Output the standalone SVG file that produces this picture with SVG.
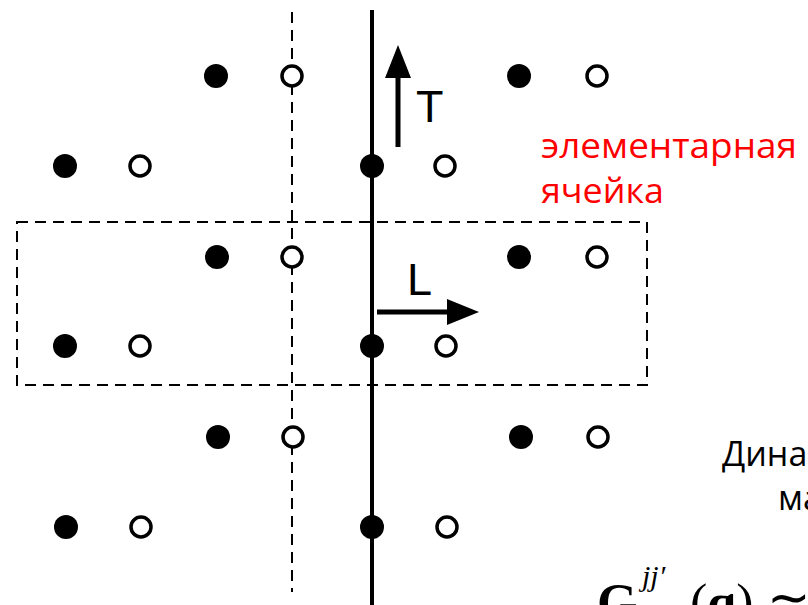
<svg xmlns="http://www.w3.org/2000/svg" width="808" height="605" viewBox="0 0 808 605">
<style>
.f{fill:#000}
.o{fill:#fff;stroke:#000;stroke-width:3.5}
.dash{fill:none;stroke:#000;stroke-width:2;stroke-dasharray:11 7}
.lbl{font-family:"Liberation Sans",Arial,sans-serif;font-size:45px;fill:#000}
.red{font-family:"Open Sans","Liberation Sans",sans-serif;font-size:34px;fill:#ff0000}
.blk{font-family:"Open Sans","Liberation Sans",sans-serif;font-size:34px;fill:#000}
.math{font-family:"Liberation Serif","Times New Roman",serif;fill:#000}
</style>
<rect width="808" height="605" fill="#fff"/>
<g id="connectors">
<line x1="292" y1="12" x2="292" y2="592" class="dash"/>
<rect x="17" y="222" width="630" height="163" class="dash"/>
<line x1="372" y1="10" x2="372" y2="605" stroke="#000" stroke-width="4"/>
<line x1="398" y1="147" x2="398" y2="75" stroke="#000" stroke-width="5"/>
<polygon points="398,45 385,78 411,78" fill="#000"/>
<line x1="377" y1="312" x2="450" y2="312" stroke="#000" stroke-width="5"/>
<polygon points="479,312 447,299 447,325" fill="#000"/>
</g>
<g id="atoms">
<circle class="f" cx="216" cy="76" r="12"/><circle class="o" cx="292" cy="76" r="10"/>
<circle class="f" cx="519" cy="76" r="12"/><circle class="o" cx="597" cy="76" r="10"/>
<circle class="f" cx="65" cy="166" r="12"/><circle class="o" cx="140" cy="166" r="10"/>
<circle class="f" cx="372" cy="166" r="12"/><circle class="o" cx="445" cy="166" r="10"/>
<circle class="f" cx="217" cy="257" r="12"/><circle class="o" cx="292" cy="257" r="10"/>
<circle class="f" cx="519" cy="257" r="12"/><circle class="o" cx="597" cy="257" r="10"/>
<circle class="f" cx="65" cy="346" r="12"/><circle class="o" cx="140" cy="346" r="10"/>
<circle class="f" cx="372" cy="346" r="12"/><circle class="o" cx="446" cy="346" r="10"/>
<circle class="f" cx="218" cy="437" r="12"/><circle class="o" cx="293" cy="437" r="10"/>
<circle class="f" cx="521" cy="437" r="12"/><circle class="o" cx="598" cy="437" r="10"/>
<circle class="f" cx="66" cy="527" r="12"/><circle class="o" cx="141" cy="527" r="10"/>
<circle class="f" cx="372" cy="527" r="12"/><circle class="o" cx="447" cy="527" r="10"/>
</g>
<g id="labels">
<text class="lbl" x="416" y="122">T</text>
<text class="lbl" x="407" y="295">L</text>
<text class="red" x="541" y="158" textLength="256" lengthAdjust="spacingAndGlyphs">элементарная</text>
<text class="red" x="541" y="203" textLength="123" lengthAdjust="spacingAndGlyphs">ячейка</text>
<text class="blk" x="722" y="466">Дина</text>
<text class="blk" x="778" y="510">ма</text>
<text class="math" x="597" y="620" font-size="52" font-weight="bold">G</text>
<text class="math" x="642" y="586" font-size="30" font-style="italic">jj′</text>
<text class="math" x="690" y="620" font-size="52">(<tspan font-weight="bold">q</tspan>) ≃</text>
</g>
</svg>
